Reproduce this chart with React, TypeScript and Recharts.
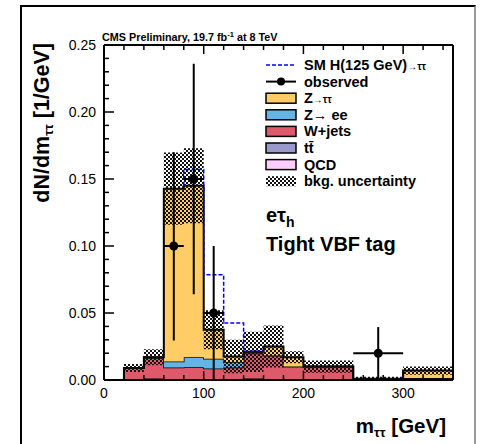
import { Area, ComposedChart, ErrorBar, Line, Scatter, XAxis, YAxis } from "recharts";

// m_tautau bins (GeV)
const binEdges = [0, 20, 40, 60, 80, 100, 120, 140, 160, 180, 200, 250, 300, 350];

// background contributions per bin, dN/dm [1/GeV]
const ttbar = [0, 0.0008, 0.0008, 0.0008, 0.0008, 0.0008, 0.0008, 0.0008, 0.0008, 0.0008, 0.0005, 0.0001, 0.0003];
const qcd = [0, 0, 0.0003, 0, 0, 0, 0, 0.0003, 0, 0, 0, 0, 0];
const wjets = [0, 0.0082, 0.0152, 0.0085, 0.0088, 0.0078, 0.0085, 0.0186, 0.0175, 0.0092, 0.0095, 0.0004, 0.0012];
const zee = [0, 0, 0.0007, 0.0045, 0.0074, 0.0072, 0.004, 0.0008, 0, 0, 0, 0, 0];
const ztt = [0, 0, 0, 0.129, 0.128, 0.0217, 0.0042, 0.0005, 0.0067, 0.007, 0, 0.0005, 0.0055];
const bkgErr = [0, 0.003, 0.006, 0.027, 0.028, 0.0145, 0.0125, 0.015, 0.0157, 0.0045, 0.0045, 0.0015, 0.003];
// SM H(125) signal stacked on top
const higgs = [0, 0, 0, 0, 0.012, 0.041, 0.025, 0.0005, 0, 0, 0, 0, 0];

// observed points
const obsMass = [70, 90, 110, 275];
const obsValue = [0.1, 0.15, 0.05, 0.02];
const obsErrLow = [0.0705, 0.086, 0.05, 0.0185];
const obsErrHigh = [0.07, 0.086, 0.05, 0.0195];
const obsHalfWidth = [10, 10, 10, 25];

const xTicks = [0, 20, 40, 60, 80, 100, 120, 140, 160, 180, 200, 220, 240, 260, 280, 300, 320, 340];
const yTicks = [
  0, 0.01, 0.02, 0.03, 0.04, 0.05, 0.06, 0.07, 0.08, 0.09, 0.1, 0.11, 0.12, 0.13, 0.14, 0.15, 0.16, 0.17, 0.18,
  0.19, 0.2, 0.21, 0.22, 0.23, 0.24, 0.25,
];

const COL = {
  ztt: "#ffcc66",
  zee: "#64b4e6",
  wjets: "#de5a6a",
  ttbar: "#9999cc",
  qcd: "#ffccff",
  sig: "#0000ff",
};
const FONT = "'Liberation Sans', Arial, Helvetica, sans-serif";

const total = binEdges.slice(0, -1).map((_, b) => ttbar[b] + qcd[b] + wjets[b] + zee[b] + ztt[b]);

const rows = binEdges.map((x, i) => {
  const b = Math.min(i, binEdges.length - 2);
  return {
    x,
    ttbar: ttbar[b],
    qcd: qcd[b],
    wjets: wjets[b],
    zee: zee[b],
    ztt: ztt[b],
    band: [Math.max(0, total[b] - bkgErr[b]), total[b] + bkgErr[b]],
  };
});

// outline of signal + background where the signal is non-zero
const firstSig = higgs.findIndex((h) => h > 0);
const lastSig = higgs.length - 1 - [...higgs].reverse().findIndex((h) => h > 0);
const sigPts: Array<{ x: number; y: number }> = [{ x: binEdges[firstSig], y: total[firstSig] }];
for (let k = firstSig; k <= lastSig; k++) {
  sigPts.push({ x: binEdges[k], y: total[k] + higgs[k] });
  sigPts.push({ x: binEdges[k + 1], y: total[k] + higgs[k] });
}
sigPts.push({ x: binEdges[lastSig + 1], y: total[lastSig + 1] });

const obs = obsMass.map((x, i) => ({
  x,
  y: obsValue[i],
  ey: [obsErrLow[i], obsErrHigh[i]],
  ex: obsHalfWidth[i],
}));

const tickStyle = { fontSize: 14, fontFamily: FONT, fill: "#000" };

function BottomTick(p: any) {
  const v = p.payload.value;
  const major = v % 100 === 0;
  return (
    <g>
      <line x1={p.x} x2={p.x} y1={p.y} y2={p.y - (major ? 9 : 5)} stroke="#000" strokeWidth={1.5} />
      {major && (
        <text x={p.x} y={p.y + 18} textAnchor="middle" {...tickStyle}>
          {v}
        </text>
      )}
    </g>
  );
}

function TopTick(p: any) {
  const major = p.payload.value % 100 === 0;
  return <line x1={p.x} x2={p.x} y1={p.y} y2={p.y + (major ? 9 : 5)} stroke="#000" strokeWidth={1.5} />;
}

function LeftTick(p: any) {
  const v = p.payload.value;
  const major = Math.round(v * 100) % 5 === 0;
  return (
    <g>
      <line x1={p.x} x2={p.x + (major ? 10 : 5)} y1={p.y} y2={p.y} stroke="#000" strokeWidth={1.5} />
      {major && (
        <text x={p.x - 8} y={p.y + 5} textAnchor="end" {...tickStyle}>
          {v.toFixed(2)}
        </text>
      )}
    </g>
  );
}

function RightTick(p: any) {
  const major = Math.round(p.payload.value * 100) % 5 === 0;
  return <line x1={p.x} x2={p.x - (major ? 10 : 5)} y1={p.y} y2={p.y} stroke="#000" strokeWidth={1.5} />;
}

const legendBoxes = [
  { label: "Z", arrow: "→ττ", color: COL.ztt },
  { label: "Z", arrow: "→ ee", color: COL.zee },
  { label: "W+jets", arrow: "", color: COL.wjets },
  { label: "tt̄", arrow: "", color: COL.ttbar },
  { label: "QCD", arrow: "", color: COL.qcd },
];

function Overlay() {
  const lx = 266;
  const tx = 304;
  const y0 = 65;
  const dy = 16.6;
  const bold = { fontFamily: FONT, fontWeight: 700, fill: "#000" };
  return (
    <svg width={483} height={444} style={{ position: "absolute", left: 0, top: 0, pointerEvents: "none" }}>
      <defs>
        <pattern id="hatchL" width="4" height="4" patternUnits="userSpaceOnUse">
          <rect x="0" y="0" width="2" height="2" fill="#111" />
          <rect x="2" y="2" width="2" height="2" fill="#111" />
        </pattern>
      </defs>
      <text x={102} y={41} fontSize={10.8} {...bold}>
        CMS Preliminary, 19.7 fb
        <tspan fontSize={7.5} dy={-4}>
          -1
        </tspan>
        <tspan dy={4}> at 8 TeV</tspan>
      </text>
      <text transform="translate(49,43) rotate(-90)" textAnchor="end" fontSize={21.5} {...bold}>
        dN/dm
        <tspan fontSize={13} dy={4}>
          ττ
        </tspan>
        <tspan dy={-4}> [1/GeV]</tspan>
      </text>
      <text x={446} y={433} textAnchor="end" fontSize={20.5} {...bold}>
        m
        <tspan fontSize={13} dy={4}>
          ττ
        </tspan>
        <tspan dy={-4}> [GeV]</tspan>
      </text>
      <text x={266} y={222} fontSize={20} {...bold}>
        eτ
        <tspan fontSize={14} dy={5}>
          h
        </tspan>
      </text>
      <text x={266} y={251} fontSize={20} {...bold}>
        Tight VBF tag
      </text>

      {/* legend */}
      <line x1={lx} x2={lx + 30} y1={y0} y2={y0} stroke={COL.sig} strokeWidth={1.5} strokeDasharray="4 2" />
      <text x={tx} y={y0 + 5} fontSize={14.5} {...bold}>
        SM H(125 GeV)
        <tspan fontSize={10}>→ττ</tspan>
      </text>
      <line x1={lx} x2={lx + 30} y1={y0 + dy} y2={y0 + dy} stroke="#000" strokeWidth={2} />
      <circle cx={lx + 15} cy={y0 + dy} r={4} fill="#000" />
      <text x={tx} y={y0 + dy + 5} fontSize={14.5} {...bold}>
        observed
      </text>
      {legendBoxes.map((e, i) => {
        const cy = y0 + dy * (i + 2);
        return (
          <g key={i}>
            <rect x={lx} y={cy - 5} width={30} height={10} fill={e.color} stroke="#000" strokeWidth={1.5} />
            <text x={tx} y={cy + 5} fontSize={14.5} {...bold}>
              {e.label}
              {e.arrow && <tspan fontSize={e.arrow.includes("ee") ? 14.5 : 10}>{e.arrow}</tspan>}
            </text>
          </g>
        );
      })}
      <rect x={lx} y={y0 + dy * 7 - 5} width={30} height={10} fill="url(#hatchL)" />
      <text x={tx} y={y0 + dy * 7 + 5} fontSize={14.5} {...bold}>
        bkg. uncertainty
      </text>
    </svg>
  );
}

export default function App() {
  return (
    <div style={{ position: "absolute", left: 0, top: 0, width: 483, height: 444, background: "#fff", overflow: "hidden" }}>
      <div
        style={{
          position: "absolute",
          left: 20,
          top: 5,
          width: 452,
          height: 460,
          borderLeft: "2px solid #000",
          borderTop: "2px solid #000",
          borderRight: "2px solid #999",
        }}
      />
      <div style={{ position: "absolute", left: 0, top: 0 }}>
        <ComposedChart width={483} height={444} data={rows} margin={{ top: 44, right: 29, bottom: 63, left: 103 }}>
          <defs>
            <pattern id="hatch" width="4" height="4" patternUnits="userSpaceOnUse">
              <rect x="0" y="0" width="2" height="2" fill="#111" />
              <rect x="2" y="2" width="2" height="2" fill="#111" />
            </pattern>
          </defs>
          <XAxis
            dataKey="x"
            type="number"
            domain={[0, 350]}
            ticks={xTicks}
            interval={0}
            height={1}
            tickSize={0}
            tickMargin={0}
            tickLine={false}
            tick={BottomTick}
            axisLine={{ stroke: "#000", strokeWidth: 2 }}
          />
          <XAxis
            xAxisId="top"
            orientation="top"
            dataKey="x"
            type="number"
            domain={[0, 350]}
            ticks={xTicks}
            interval={0}
            height={1}
            tickSize={0}
            tickMargin={0}
            tickLine={false}
            tick={TopTick}
            axisLine={{ stroke: "#000", strokeWidth: 2 }}
          />
          <YAxis
            type="number"
            domain={[0, 0.25]}
            ticks={yTicks}
            interval={0}
            width={1}
            tickSize={0}
            tickMargin={0}
            tickLine={false}
            tick={LeftTick}
            axisLine={{ stroke: "#000", strokeWidth: 2 }}
          />
          <YAxis
            yAxisId="right"
            orientation="right"
            type="number"
            domain={[0, 0.25]}
            ticks={yTicks}
            interval={0}
            width={1}
            tickSize={0}
            tickMargin={0}
            tickLine={false}
            tick={RightTick}
            axisLine={{ stroke: "#000", strokeWidth: 2 }}
          />
          <Area type="stepAfter" dataKey="ttbar" stackId="bkg" fill={COL.ttbar} fillOpacity={1} stroke="#000" strokeWidth={1.5} isAnimationActive={false} activeDot={false} />
          <Area type="stepAfter" dataKey="qcd" stackId="bkg" fill={COL.qcd} fillOpacity={1} stroke="#000" strokeWidth={1.5} isAnimationActive={false} activeDot={false} />
          <Area type="stepAfter" dataKey="wjets" stackId="bkg" fill={COL.wjets} fillOpacity={1} stroke="#000" strokeWidth={1.5} isAnimationActive={false} activeDot={false} />
          <Area type="stepAfter" dataKey="zee" stackId="bkg" fill={COL.zee} fillOpacity={1} stroke="#000" strokeWidth={1.5} isAnimationActive={false} activeDot={false} />
          <Area type="stepAfter" dataKey="ztt" stackId="bkg" fill={COL.ztt} fillOpacity={1} stroke="#000" strokeWidth={2} isAnimationActive={false} activeDot={false} />
          <Area type="stepAfter" dataKey="band" fill="url(#hatch)" fillOpacity={1} stroke="none" isAnimationActive={false} activeDot={false} />
          <Line data={sigPts} dataKey="y" type="linear" stroke={COL.sig} strokeWidth={1.5} strokeDasharray="4 2" dot={false} activeDot={false} isAnimationActive={false} />
          <Scatter
            data={obs}
            dataKey="y"
            isAnimationActive={false}
            shape={(p: any) => <circle cx={p.cx} cy={p.cy} r={4.5} fill="#000" />}
          >
            <ErrorBar dataKey="ey" direction="y" width={0} stroke="#000" strokeWidth={2} isAnimationActive={false} />
            <ErrorBar dataKey="ex" direction="x" width={0} stroke="#000" strokeWidth={2} isAnimationActive={false} />
          </Scatter>
        </ComposedChart>
      </div>
      <Overlay />
    </div>
  );
}
